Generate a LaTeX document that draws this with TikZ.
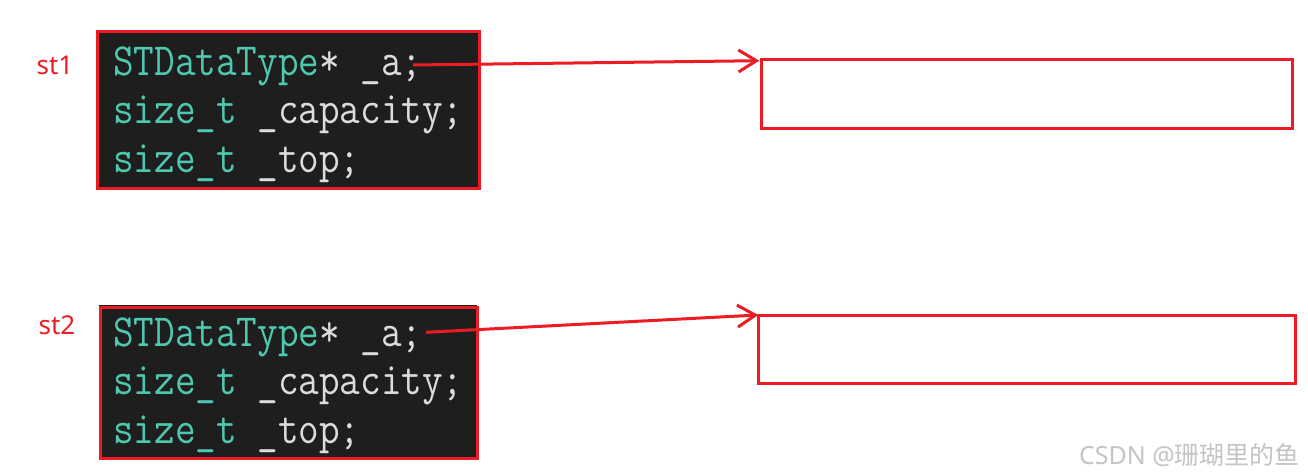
\documentclass[tikz,border=0pt]{standalone}
\usepackage{fontspec}
\usetikzlibrary{arrows.meta}
\newfontfamily\labfont{Noto Sans}
\newfontfamily\cjk{Noto Sans CJK SC}
\definecolor{cred}{HTML}{ED1C24}
\definecolor{cbg}{HTML}{1E1E1E}
\definecolor{cteal}{HTML}{4EC9B0}
\definecolor{clight}{HTML}{DCDCDC}
\definecolor{cwm}{HTML}{C4C4C4}
\begin{document}
\begin{tikzpicture}[x=1pt,y=1pt,
  codebox/.style={fill=cbg,draw=cred,line width=3pt},
  emptybox/.style={draw=cred,line width=3pt},
  codeline/.style={anchor=base west,inner sep=0pt,font=\fontsize{40pt}{42pt}\selectfont\ttfamily},
  stlabel/.style={text=cred,font=\labfont\fontsize{26pt}{28pt}\selectfont,inner sep=0pt},
  ptr/.style={draw=cred,line width=3pt,-{Straight Barb[length=18pt,width=22pt,line width=3pt]}}]
\useasboundingbox (0,0) rectangle (1308,476);
\fill[white] (0,0) rectangle (1308,476);
% box 1
\draw[codebox] (97,444) rectangle (479,287);
\node[codeline] (l11) at (113,400) {\scalebox{1}[1.15]{\textcolor{cteal}{STDataType}\textcolor{clight}{*\ \_a;}}};
\node[codeline] (l12) at (113,352) {\scalebox{1}[1.15]{\textcolor{cteal}{size\_t}\textcolor{clight}{\ \_capacity;}}};
\node[codeline] (l13) at (113,303) {\scalebox{1}[1.15]{\textcolor{cteal}{size\_t}\textcolor{clight}{\ \_top;}}};
% box 2
\fill[cbg] (99,171) rectangle (477,17);
\draw[codebox] (100,168) rectangle (477,17);
\node[codeline] (l21) at (113,129) {\scalebox{1}[1.15]{\textcolor{cteal}{STDataType}\textcolor{clight}{*\ \_a;}}};
\node[codeline] (l22) at (113,81) {\scalebox{1}[1.15]{\textcolor{cteal}{size\_t}\textcolor{clight}{\ \_capacity;}}};
\node[codeline] (l23) at (113,32) {\scalebox{1}[1.15]{\textcolor{cteal}{size\_t}\textcolor{clight}{\ \_top;}}};
% labels
\node[stlabel] (st1) at (55,411) {st1};
\node[stlabel] (st2) at (57,151) {st2};
% right boxes
\draw[emptybox] (761.7,416.7) rectangle (1292,347.7);
\draw[emptybox] (758.3,160) rectangle (1295.3,92.7);
\coordinate (a1) at (413,411);
\coordinate (t1) at (759.3,415.3);
\coordinate (a2) at (426,143.7);
\coordinate (t2) at (758.3,161);
\draw[ptr] (a1) -- (t1);
\draw[ptr] (a2) -- (t2);
% watermark
\node[anchor=east,inner sep=0pt,text=cwm,font=\fontsize{25pt}{27pt}\selectfont] (wm) at (1300,21) {\labfont CSDN @\cjk 珊瑚里的鱼};
\end{tikzpicture}
\end{document}
